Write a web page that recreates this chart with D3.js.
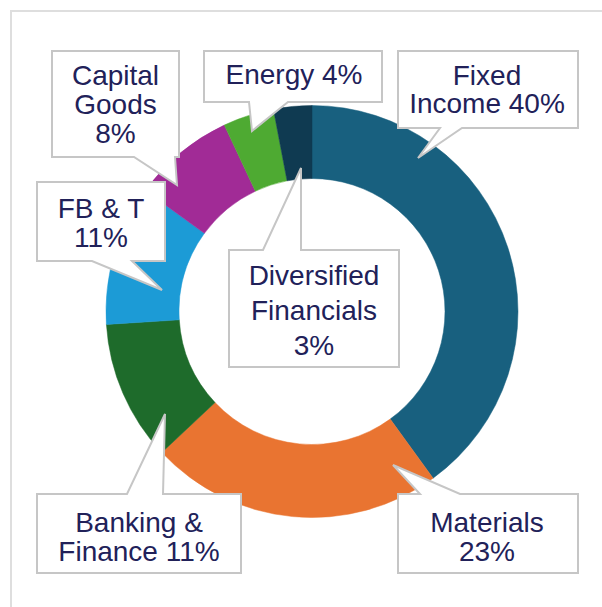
<!DOCTYPE html>
<html>
<head>
<meta charset="utf-8">
<script src="https://cdn.jsdelivr.net/npm/d3@7/dist/d3.min.js"></script>
<style>
  html, body { margin: 0; padding: 0; background: #ffffff; }
  svg { display: block; }
  text { font-family: "Liberation Sans", Arial, Helvetica, sans-serif; }
</style>
</head>
<body>
<svg id="chart" width="602" height="607"></svg>
<script>
// ---- data ----
const categories = ["Fixed Income", "Materials", "Banking & Finance", "FB & T", "Capital Goods", "Energy", "Diversified Financials"];
const values = [40, 23, 11, 11, 8, 4, 3];
const colors = ["#18607f", "#e97431", "#1e6b2b", "#1c9bd6", "#a12b96", "#4eaa32", "#0f3a51"];
// label lines ({v} is replaced by the value)
const labelLines = [
  ["Fixed", "Income {v}%"],
  ["Materials", "{v}%"],
  ["Banking &", "Finance {v}%"],
  ["FB & T", "{v}%"],
  ["Capital", "Goods", "{v}%"],
  ["Energy {v}%"],
  ["Diversified", "Financials", "{v}%"]
];

// ---- layout (callout boxes: box rect, tail base on an edge, tail tip, line baselines) ----
const callouts = [
  { x0: 398, x1: 578, y0: 51, y1: 128, edge: "bottom", b0: 440, b1: 462, tip: [418, 158], cx: 487, base: [85, 113] },
  { x0: 398, x1: 578, y0: 494, y1: 573, edge: "top", b0: 420, b1: 460, tip: [393, 465], cx: 487, base: [532, 561] },
  { x0: 37, x1: 241, y0: 494, y1: 573, edge: "top", b0: 127, b1: 163, tip: [165, 414], cx: 139, base: [532, 561] },
  { x0: 37, x1: 165, y0: 182, y1: 261, edge: "bottom", b0: 92, b1: 132, tip: [162, 290], cx: 101, base: [218, 247] },
  { x0: 52, x1: 179, y0: 51, y1: 157, edge: "bottom", b0: 134, b1: 175, tip: [177, 185], cx: 115.5, base: [85, 114, 143] },
  { x0: 204, x1: 382, y0: 51, y1: 102, edge: "bottom", b0: 249, b1: 288, tip: [252, 131], cx: 294, base: [84] },
  { x0: 229, x1: 399, y0: 250, y1: 367, edge: "top", b0: 263, b1: 301, tip: [301, 168], cx: 314, base: [285, 320, 355] }
];

const W = 602, H = 607;
const cx = 312, cy = 311.5, outerR = 206, innerR = 133;

const svg = d3.select("#chart");

// frame
svg.append("rect")
  .attr("x", 11).attr("y", 11)
  .attr("width", 700).attr("height", 700)
  .attr("fill", "none")
  .attr("stroke", "#dedede")
  .attr("stroke-width", 2);

const data = categories.map((c, i) => ({ name: c, value: values[i], color: colors[i], lines: labelLines[i], co: callouts[i] }));

const pie = d3.pie().sort(null).value(d => d.value).startAngle(0).endAngle(2 * Math.PI);
const arc = d3.arc().innerRadius(innerR).outerRadius(outerR);

const g = svg.append("g").attr("transform", `translate(${cx},${cy})`);
g.selectAll("path.slice")
  .data(pie(data))
  .join("path")
  .attr("class", "slice")
  .attr("d", arc)
  .attr("fill", d => d.data.color)
  .attr("stroke", d => d.data.color)
  .attr("stroke-width", 0.5);

// callouts
function calloutPath(c) {
  const p = d3.path();
  if (c.edge === "bottom") {
    p.moveTo(c.x0, c.y0);
    p.lineTo(c.x1, c.y0);
    p.lineTo(c.x1, c.y1);
    p.lineTo(c.b1, c.y1);
    p.lineTo(c.tip[0], c.tip[1]);
    p.lineTo(c.b0, c.y1);
    p.lineTo(c.x0, c.y1);
    p.closePath();
  } else {
    p.moveTo(c.x0, c.y0);
    p.lineTo(c.b0, c.y0);
    p.lineTo(c.tip[0], c.tip[1]);
    p.lineTo(c.b1, c.y0);
    p.lineTo(c.x1, c.y0);
    p.lineTo(c.x1, c.y1);
    p.lineTo(c.x0, c.y1);
    p.closePath();
  }
  return p.toString();
}

const cg = svg.append("g").selectAll("g.callout")
  .data(data)
  .join("g")
  .attr("class", "callout");

cg.append("path")
  .attr("d", d => calloutPath(d.co))
  .attr("fill", "#ffffff")
  .attr("stroke", "#c6c6c6")
  .attr("stroke-width", 2)
  .attr("stroke-linejoin", "miter");

cg.each(function (d) {
  const sel = d3.select(this);
  d.lines.forEach((ln, k) => {
    sel.append("text")
      .attr("x", d.co.cx)
      .attr("y", d.co.base[k])
      .attr("text-anchor", "middle")
      .attr("font-size", 28)
      .attr("fill", "#212159")
      .text(ln.replace("{v}", d.value));
  });
});
</script>
</body>
</html>
